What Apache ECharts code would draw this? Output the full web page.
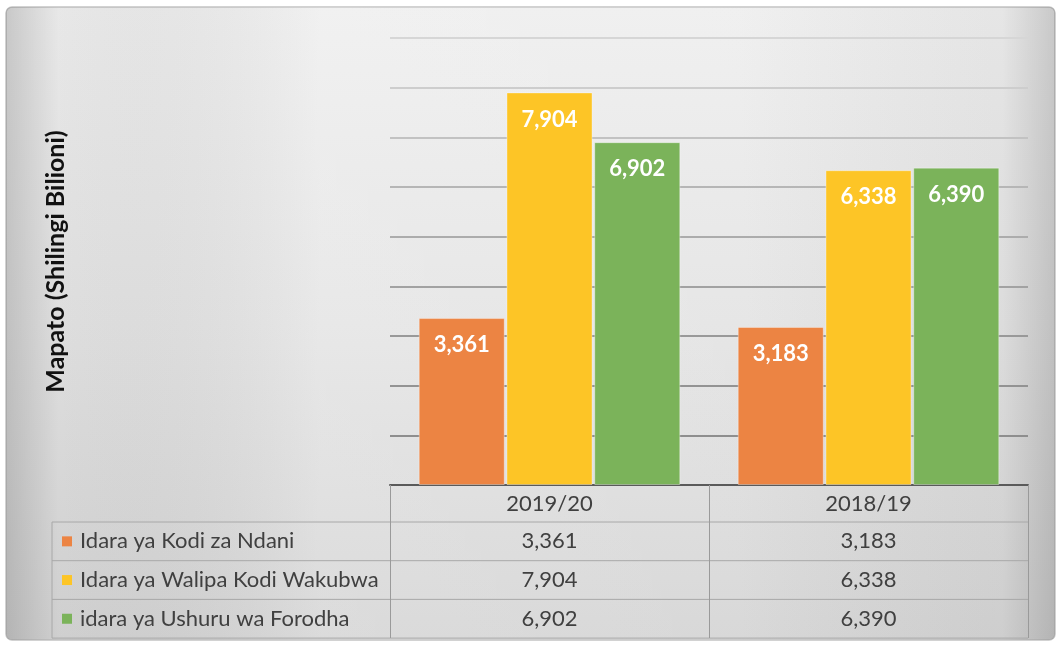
<!DOCTYPE html>
<html><head><meta charset="utf-8">
<script src="https://cdn.jsdelivr.net/npm/echarts@6/dist/echarts.min.js"></script>
<style>html,body{margin:0;padding:0;background:#fff}#c{width:1061px;height:646px}</style>
</head><body><div id="c"></div>
<script>
const categories = ['2019/20', '2018/19'];
const seriesNames = ['Idara ya Kodi za Ndani', 'Idara ya Walipa Kodi Wakubwa', 'idara ya Ushuru wa Forodha'];
const kodiNdani = [3361, 3183];
const walipaWakubwa = [7904, 6338];
const ushuruForodha = [6902, 6390];
const yTitle = 'Mapato (Shilingi Bilioni)';

const colors = ['#EC8443', '#FDC526', '#7BB35A'];
const seriesData = [kodiNdani, walipaWakubwa, ushuruForodha];
const FONT = 'Lato, "Open Sans", sans-serif';
const fmt = v => v.toLocaleString('en-US');

const chart = echarts.init(document.getElementById('c'), null, {renderer: 'canvas'});
const G = {left: 390, right: 33, top: 38, bottom: 161};
const tableLeft = 52, rowH = 38.7, headerBottom = 522;

const option = {
  animation: false,
  grid: {left: G.left, right: G.right, top: G.top, bottom: G.bottom, containLabel: false},
  xAxis: {
    type: 'category', data: categories,
    axisLine: {show: true, lineStyle: {color: '#5a5a5a', width: 2}},
    axisTick: {show: true, interval: 0, length: 153, lineStyle: {color: '#9a9a9a', width: 1}},
    axisLabel: {margin: 8, fontFamily: FONT, fontSize: 22, color: '#404040'}
  },
  yAxis: {
    type: 'value', min: 0, max: 9000, interval: 1000,
    name: yTitle, nameLocation: 'middle', nameGap: 322, nameRotate: 90,
    nameTextStyle: {fontFamily: FONT, fontSize: 25, fontWeight: 'bold', color: '#111'},
    axisLabel: {show: false}, axisLine: {show: false}, axisTick: {show: false},
    splitLine: {lineStyle: {width: 2, color: ['#8a8a8a','#8e8e8e','#939393','#999','#a2a2a2','#acacac','#b6b6b6','#c2c2c2','#cdcdcd','#d6d6d6']}}
  },
  series: seriesData.map((d, i) => ({
    type: 'bar', name: seriesNames[i], data: d,
    barGap: '2%', barCategoryGap: '18%',
    itemStyle: {color: colors[i], borderColor: 'rgba(255,255,255,0.35)', borderWidth: 1},
    label: {show: true, position: 'insideTop', distance: 16, formatter: p => fmt(p.value),
      color: '#fff', fontFamily: FONT, fontWeight: 'bold', fontSize: 22}
  })),
  graphic: []
};
chart.setOption(option);

const W = 1061, H = 646;
const rightEdge = W - G.right;
const g = [];
const box = {x: 6, y: 7, width: 1049, height: 633, r: 6};
g.push({type: 'rect', z: -12, silent: true, shape: box,
  style: {fill: new echarts.graphic.LinearGradient(0, 0, 0, 1, [
      {offset: 0, color: '#efefef'}, {offset: 0.5, color: '#e5e5e5'}, {offset: 1, color: '#d6d6d6'}]),
    stroke: '#c4c4c4', lineWidth: 1.5}});
g.push({type: 'rect', z: -11, silent: true, shape: box,
  style: {fill: new echarts.graphic.LinearGradient(0, 0, 1, 0, [
      {offset: 0, color: 'rgba(0,0,0,0.16)'}, {offset: 0.05, color: 'rgba(0,0,0,0.03)'},
      {offset: 0.3, color: 'rgba(255,255,255,0.12)'}, {offset: 0.7, color: 'rgba(255,255,255,0.05)'},
      {offset: 0.95, color: 'rgba(0,0,0,0.04)'}, {offset: 1, color: 'rgba(0,0,0,0.16)'}])}});
// table lines
for (let r = 0; r <= 3; r++) {
  const y = headerBottom + r * rowH;
  g.push({type: 'line', silent: true, shape: {x1: tableLeft, y1: y, x2: rightEdge, y2: y}, style: {stroke: '#a8a8a8', lineWidth: 1}});
}
g.push({type: 'line', silent: true, shape: {x1: tableLeft, y1: headerBottom, x2: tableLeft, y2: headerBottom + 3 * rowH}, style: {stroke: '#a8a8a8', lineWidth: 1}});
seriesNames.forEach((n, i) => {
  const cy = headerBottom + rowH * (i + 0.5);
  g.push({type: 'rect', silent: true, shape: {x: 62, y: cy - 5, width: 10, height: 10}, style: {fill: colors[i]}});
  g.push({type: 'text', silent: true, x: 80, y: cy, style: {text: n, fontFamily: FONT, fontSize: 22, fill: '#404040', verticalAlign: 'middle', align: 'left'}});
  categories.forEach((c, j) => {
    const cx = chart.convertToPixel({xAxisIndex: 0}, c);
    g.push({type: 'text', silent: true, x: cx, y: cy, style: {text: fmt(seriesData[i][j]), fontFamily: FONT, fontSize: 22, fill: '#404040', align: 'center', verticalAlign: 'middle'}});
  });
});
chart.setOption({graphic: g});
</script></body></html>
